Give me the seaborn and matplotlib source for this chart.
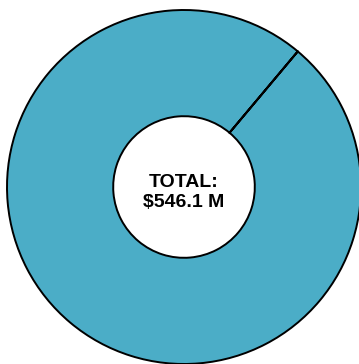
import matplotlib
matplotlib.use("Agg")
import matplotlib.pyplot as plt
import seaborn as sns

# donut data (one segment carries the whole total, the other is empty)
categories = ["Total", "Other"]
values = [546.1, 0.0]
total_label = "TOTAL:\n$546.1 M"

sns.set_style("white")
plt.rcParams["font.family"] = ["Liberation Sans", "DejaVu Sans"]

colors = ["#4BADC7", "#4BADC7"]

fig = plt.figure(figsize=(3.59, 3.64), dpi=100)
ax = fig.add_axes([0, 0, 1, 1])

wedges, _ = ax.pie(values, colors=colors, startangle=50, counterclock=True,
                   radius=1.0,
                   wedgeprops=dict(width=0.6, edgecolor="black", linewidth=1.4))

ax.text(0, -0.03, total_label, ha="center", va="center", fontsize=14,
        fontweight="bold", linespacing=1.25, color="black")

# centre of the donut sits at (184, 187) px, outer radius ~177 px
r = 177
ax.set_xlim(-184 / r, (359 - 184) / r)
ax.set_ylim(-(364 - 187) / r, 187 / r)
ax.set_aspect("auto")
ax.axis("off")

fig.savefig("out.png", dpi=100)
